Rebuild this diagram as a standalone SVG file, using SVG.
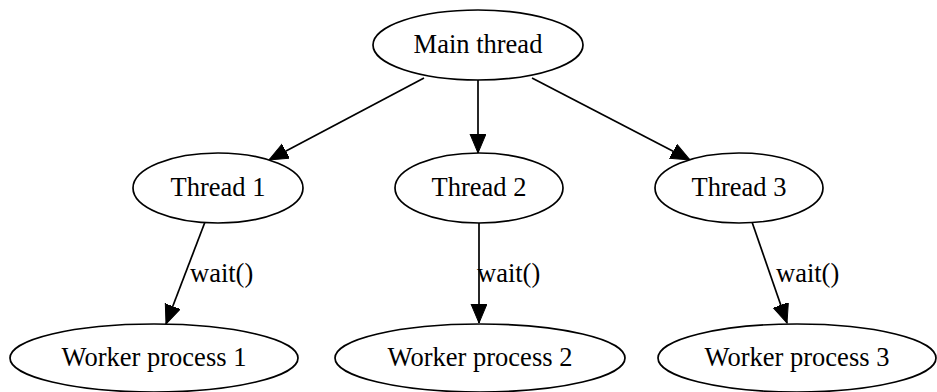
<svg xmlns="http://www.w3.org/2000/svg" width="937" height="392" viewBox="0 0 937 392">
<style>
.node ellipse{fill:#fff;stroke:#000;stroke-width:1.7}
.node text,.lbl{font-family:"Liberation Serif","Times New Roman",serif;font-size:26.5px;fill:#000}
.node text{text-anchor:middle}
.edges line{stroke:#000;stroke-width:1.7;marker-end:url(#ah)}
</style>
<defs>
<marker id="ah" markerUnits="userSpaceOnUse" markerWidth="22" markerHeight="18" refX="19" refY="8" orient="auto">
<path d="M0,0 L19,8 L0,16 z" fill="#000" stroke="#000" stroke-width="1"/>
</marker>
</defs>
<rect width="937" height="392" fill="#fff"/>
<g id="edges" class="edges">
<line x1="424" y1="78" x2="269" y2="160"/>
<line x1="478" y1="80" x2="478" y2="153"/>
<line x1="532" y1="78" x2="690" y2="160"/>
<line x1="205" y1="222" x2="166" y2="324"/>
<line x1="479" y1="223" x2="479" y2="323"/>
<line x1="752" y1="222" x2="787" y2="323"/>
<text class="lbl" x="190" y="282">wait()</text>
<text class="lbl" x="477" y="282">wait()</text>
<text class="lbl" x="776" y="282">wait()</text>
</g>
<g id="main" class="node"><ellipse cx="478" cy="45" rx="105" ry="35"/><text x="478" y="53">Main thread</text></g>
<g id="t1" class="node"><ellipse cx="218" cy="188" rx="85" ry="35"/><text x="218" y="196">Thread 1</text></g>
<g id="t2" class="node"><ellipse cx="479" cy="188" rx="84" ry="35"/><text x="479" y="196">Thread 2</text></g>
<g id="t3" class="node"><ellipse cx="739" cy="188" rx="84" ry="35"/><text x="739" y="196">Thread 3</text></g>
<g id="w1" class="node"><ellipse cx="154" cy="358" rx="144" ry="34"/><text x="154" y="366">Worker process 1</text></g>
<g id="w2" class="node"><ellipse cx="480" cy="358" rx="145" ry="34"/><text x="480" y="366">Worker process 2</text></g>
<g id="w3" class="node"><ellipse cx="797" cy="358" rx="139" ry="34"/><text x="797" y="366">Worker process 3</text></g>
</svg>
